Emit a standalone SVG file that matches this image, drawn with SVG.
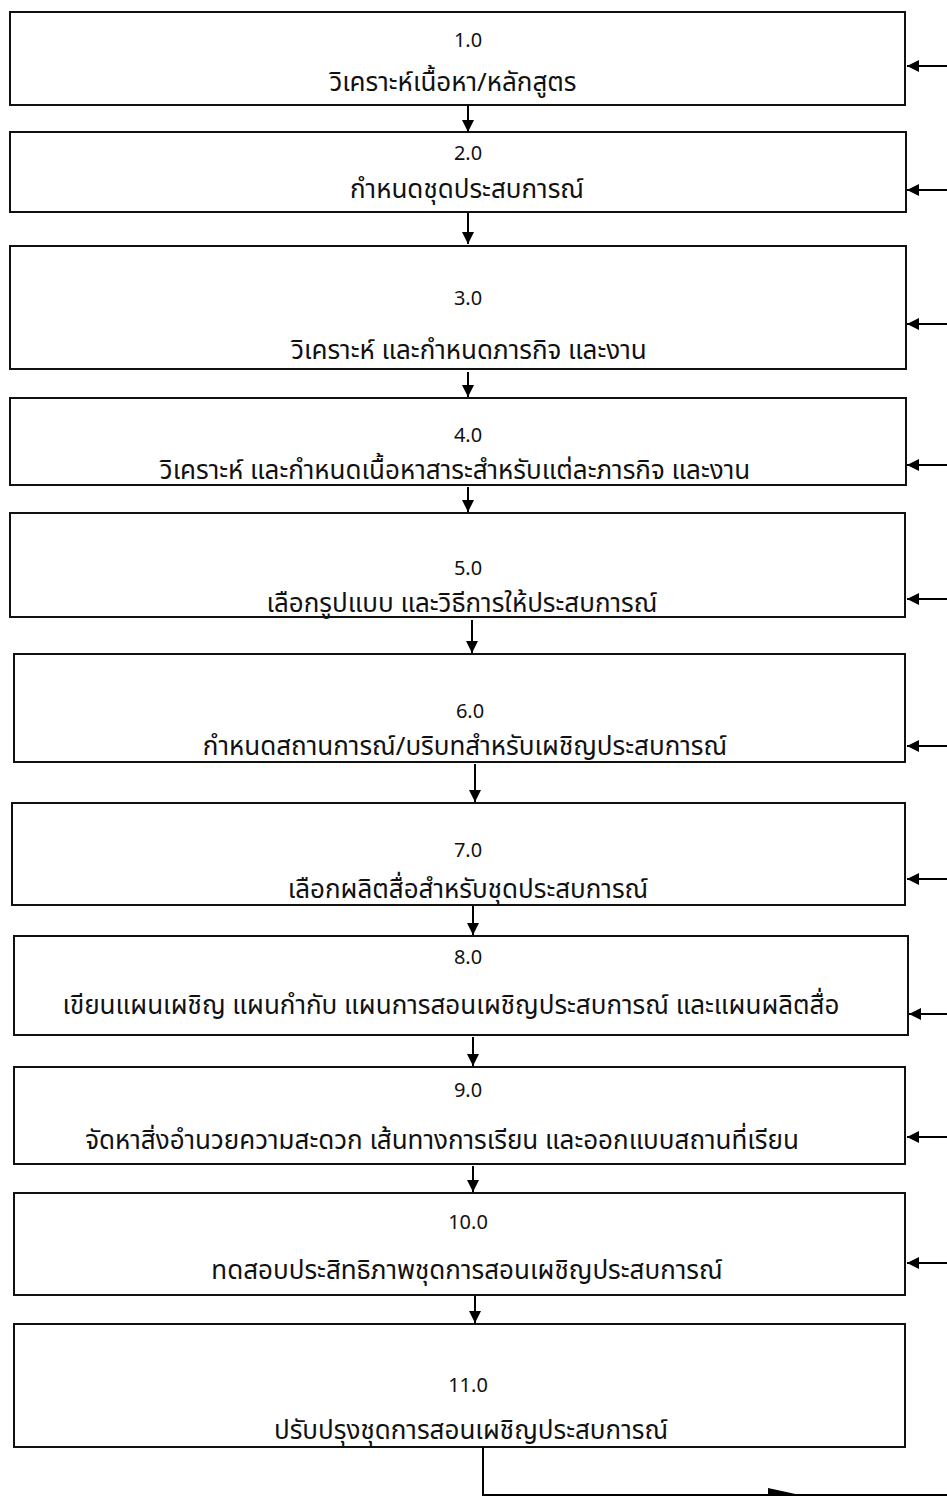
<svg xmlns="http://www.w3.org/2000/svg" width="947" height="1499" viewBox="0 0 947 1499">
<style>
.box{fill:#fff;stroke:#111;stroke-width:2}
.n{font-family:"Noto Sans Thai","Noto Sans","Liberation Sans",sans-serif;font-size:20px;fill:#111;text-anchor:middle}
.t{font-family:"Noto Sans Thai","Noto Sans","Liberation Sans",sans-serif;font-size:26px;fill:#111;text-anchor:middle}
.c{stroke:#000;stroke-width:2;fill:none}
</style>
<defs>
<marker id="ahl" viewBox="0 0 10 10" refX="10" refY="5" markerWidth="12" markerHeight="12" markerUnits="userSpaceOnUse" orient="auto">
<path d="M0,0 L10,5 L0,10 z" fill="#000"/>
</marker>
</defs>
<rect width="947" height="1499" fill="#fff"/>
<g id="n1"><rect class="box" x="10" y="12" width="895" height="93"/><text class="n" x="468" y="47">1.0</text><text class="t" x="453" y="91">วิเคราะห์เนื้อหา/หลักสูตร</text></g>
<g id="n2"><rect class="box" x="10" y="132" width="896" height="80"/><text class="n" x="468" y="160">2.0</text><text class="t" x="467" y="198">กำหนดชุดประสบการณ์</text></g>
<g id="n3"><rect class="box" x="10" y="246" width="896" height="123"/><text class="n" x="468" y="305">3.0</text><text class="t" x="469" y="359">วิเคราะห์ และกำหนดภารกิจ และงาน</text></g>
<g id="n4"><rect class="box" x="10" y="398" width="896" height="87"/><text class="n" x="468" y="442">4.0</text><text class="t" x="455" y="479">วิเคราะห์ และกำหนดเนื้อหาสาระสำหรับแต่ละภารกิจ และงาน</text></g>
<g id="n5"><rect class="box" x="10" y="513" width="895" height="104"/><text class="n" x="468" y="575">5.0</text><text class="t" x="462" y="612">เลือกรูปแบบ และวิธีการให้ประสบการณ์</text></g>
<g id="n6"><rect class="box" x="14" y="654" width="891" height="108"/><text class="n" x="470" y="718">6.0</text><text class="t" x="465" y="755">กำหนดสถานการณ์/บริบทสำหรับเผชิญประสบการณ์</text></g>
<g id="n7"><rect class="box" x="12" y="803" width="893" height="102"/><text class="n" x="468" y="857">7.0</text><text class="t" x="468" y="898">เลือกผลิตสื่อสำหรับชุดประสบการณ์</text></g>
<g id="n8"><rect class="box" x="14" y="936" width="894" height="99"/><text class="n" x="468" y="964">8.0</text><text class="t" x="451" y="1014">เขียนแผนเผชิญ แผนกำกับ แผนการสอนเผชิญประสบการณ์ และแผนผลิตสื่อ</text></g>
<g id="n9"><rect class="box" x="14" y="1067" width="891" height="97"/><text class="n" x="468" y="1097">9.0</text><text class="t" x="442" y="1149">จัดหาสิ่งอำนวยความสะดวก เส้นทางการเรียน และออกแบบสถานที่เรียน</text></g>
<g id="n10"><rect class="box" x="14" y="1193" width="891" height="102"/><text class="n" x="468" y="1229">10.0</text><text class="t" x="467" y="1279">ทดสอบประสิทธิภาพชุดการสอนเผชิญประสบการณ์</text></g>
<g id="n11"><rect class="box" x="14" y="1324" width="891" height="123"/><text class="n" x="468" y="1392">11.0</text><text class="t" x="471" y="1439">ปรับปรุงชุดการสอนเผชิญประสบการณ์</text></g>
<g id="connectors">
<path class="c" d="M468,105 V132" marker-end="url(#ahl)"/>
<path class="c" d="M468,213 V244" marker-end="url(#ahl)"/>
<path class="c" d="M468,372 V397" marker-end="url(#ahl)"/>
<path class="c" d="M468,487 V512" marker-end="url(#ahl)"/>
<path class="c" d="M472,620 V653" marker-end="url(#ahl)"/>
<path class="c" d="M475,764 V802" marker-end="url(#ahl)"/>
<path class="c" d="M473,906 V935" marker-end="url(#ahl)"/>
<path class="c" d="M473,1037 V1066" marker-end="url(#ahl)"/>
<path class="c" d="M473,1166 V1192" marker-end="url(#ahl)"/>
<path class="c" d="M475,1296 V1323" marker-end="url(#ahl)"/>
<path class="c" d="M947,66 H907" marker-end="url(#ahl)"/>
<path class="c" d="M947,190 H907" marker-end="url(#ahl)"/>
<path class="c" d="M947,324 H907" marker-end="url(#ahl)"/>
<path class="c" d="M947,465 H907" marker-end="url(#ahl)"/>
<path class="c" d="M947,599 H907" marker-end="url(#ahl)"/>
<path class="c" d="M947,746 H907" marker-end="url(#ahl)"/>
<path class="c" d="M947,879 H907" marker-end="url(#ahl)"/>
<path class="c" d="M947,1014 H909" marker-end="url(#ahl)"/>
<path class="c" d="M947,1137 H907" marker-end="url(#ahl)"/>
<path class="c" d="M947,1263 H907" marker-end="url(#ahl)"/>
<path class="c" d="M483,1447 V1495 H947"/>
<path d="M768,1488 L800,1495 L768,1495 z" fill="#000"/>
</g>
</svg>
